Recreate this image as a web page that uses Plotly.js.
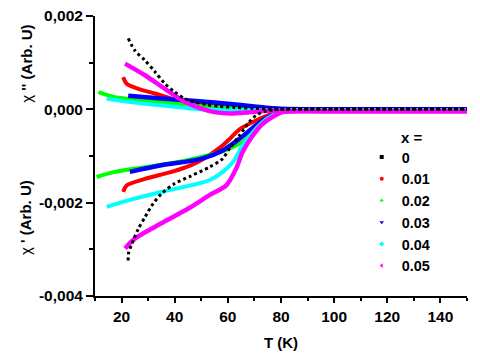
<!DOCTYPE html>
<html>
<head>
<meta charset="utf-8">
<script src="https://cdn.plot.ly/plotly-3.0.1.min.js"></script>
<style>
  html, body { margin: 0; padding: 0; background: #fff; }
  #chart { width: 480px; height: 357px; }
</style>
</head>
<body>
<div id="chart"></div>
<script>
// samples (x =) and their colours / symbols
var samples = ['0', '0.01', '0.02', '0.03', '0.04', '0.05'];
var colors = ['#000000', '#ff0000', '#00ff00', '#0000ff', '#00ffff', '#ff00ff'];
var symbols = ['square', 'circle', 'triangle-up', 'triangle-down', 'diamond', 'triangle-left'];

// chi'' branch (upper) and chi' branch (lower), T in K
var tUp0 = [22.5, 25, 28.8, 32.5, 36.3, 40, 43.8, 47.5, 52, 57, 63, 70, 80, 100, 150];
var cUp0 = [1.52e-3, 1.26e-3, 1.05e-3, 0.81e-3, 0.55e-3, 0.37e-3, 0.23e-3, 0.16e-3, 0.10e-3, 0.06e-3, 0.04e-3, 0.02e-3, 0, 0, 0];
var tDn0 = [22.5, 22.6, 24.4, 26.3, 28.8, 31.9, 35, 40, 46, 53, 58, 60.6, 64.4, 68.1, 70.6, 74, 80, 100, 150];
var cDn0 = [-3.24e-3, -3.09e-3, -2.81e-3, -2.56e-3, -2.31e-3, -2.02e-3, -1.81e-3, -1.59e-3, -1.43e-3, -1.24e-3, -1.06e-3, -0.84e-3, -0.56e-3, -0.27e-3, -0.13e-3, -0.04e-3, 0, 0, 0];

var tUp1 = [20.6, 21.9, 26.3, 32.5, 38.8, 43.8, 50, 58, 66, 75, 85, 100, 150];
var cUp1 = [0.69e-3, 0.55e-3, 0.44e-3, 0.34e-3, 0.23e-3, 0.16e-3, 0.09e-3, 0.05e-3, 0.02e-3, 0, 0, 0, 0];
var tDn1 = [20.6, 21.9, 28.8, 38.8, 46, 52, 57, 60.6, 64.4, 70.6, 75.6, 80, 85, 100, 150];
var cDn1 = [-1.77e-3, -1.63e-3, -1.49e-3, -1.34e-3, -1.2e-3, -1.02e-3, -0.82e-3, -0.64e-3, -0.43e-3, -0.24e-3, -0.12e-3, -0.04e-3, 0, 0, 0];

var tUp2 = [11.3, 17.5, 28.8, 41.3, 50, 60, 70, 80, 100, 150];
var cUp2 = [0.37e-3, 0.26e-3, 0.19e-3, 0.12e-3, 0.064e-3, 0.03e-3, 0.01e-3, 0, 0, 0];
var tDn2 = [10.6, 17.5, 28.8, 41.3, 51.5, 58, 60.6, 65.6, 70.6, 75.6, 80, 85, 100, 150];
var cDn2 = [-1.45e-3, -1.34e-3, -1.24e-3, -1.13e-3, -1.0e-3, -0.9e-3, -0.84e-3, -0.70e-3, -0.41e-3, -0.16e-3, -0.04e-3, 0, 0, 0];

var tUp3 = [22.5, 35, 48, 60, 70, 80, 100, 150];
var cUp3 = [0.29e-3, 0.23e-3, 0.18e-3, 0.12e-3, 0.06e-3, 0.01e-3, 0, 0];
var tDn3 = [23.1, 35, 50, 58.1, 64.4, 70.6, 75.6, 82, 100, 150];
var cDn3 = [-1.34e-3, -1.2e-3, -1.06e-3, -0.88e-3, -0.63e-3, -0.34e-3, -0.16e-3, -0.02e-3, 0, 0];

var tUp4 = [14.4, 22.5, 35, 50, 60, 75, 100, 150];
var cUp4 = [0.23e-3, 0.16e-3, 0.086e-3, 0, -0.02e-3, -0.02e-3, -0.02e-3, -0.02e-3];
var tDn4 = [14.4, 22.5, 35, 46, 53, 58.1, 61.9, 65.6, 69.4, 73.1, 76.9, 82, 100, 150];
var cDn4 = [-2.09e-3, -1.95e-3, -1.77e-3, -1.63e-3, -1.52e-3, -1.34e-3, -1.13e-3, -0.77e-3, -0.49e-3, -0.27e-3, -0.13e-3, -0.03e-3, -0.02e-3, -0.02e-3];

var tUp5 = [21.3, 28.8, 36.3, 43.8, 50, 55, 61, 67, 75, 85, 100, 150];
var cUp5 = [0.98e-3, 0.73e-3, 0.44e-3, 0.16e-3, 0.015e-3, -0.06e-3, -0.09e-3, -0.07e-3, -0.03e-3, -0.04e-3, -0.04e-3, -0.04e-3];
var tDn5 = [21.3, 25, 35, 45.3, 53.1, 59.4, 63.1, 65.6, 69.4, 73.1, 76.9, 80.6, 85, 100, 150];
var cDn5 = [-2.98e-3, -2.77e-3, -2.44e-3, -2.12e-3, -1.84e-3, -1.63e-3, -1.27e-3, -0.91e-3, -0.56e-3, -0.31e-3, -0.16e-3, -0.06e-3, -0.04e-3, -0.04e-3, -0.04e-3];

var xTicks = [20, 40, 60, 80, 100, 120, 140];
var yTicks = [-0.004, -0.002, 0, 0.002];
var yTickText = ['-0,004', '-0,002', '0,000', '0,002'];

var branches = [
  [tUp0, cUp0, tDn0, cDn0],
  [tUp1, cUp1, tDn1, cDn1],
  [tUp2, cUp2, tDn2, cDn2],
  [tUp3, cUp3, tDn3, cDn3],
  [tUp4, cUp4, tDn4, cDn4],
  [tUp5, cUp5, tDn5, cDn5]
];
var widths = [3, 4, 4, 4.5, 4, 4.5];

var data = [];
// draw 0.01..0.05 first, black dotted curve on top
var order = [1, 2, 3, 4, 5, 0];
order.forEach(function (i) {
  var b = branches[i];
  var line = { color: colors[i], width: widths[i], shape: 'spline', smoothing: 0.8 };
  if (i === 0) line.dash = 'dot';
  data.push({ x: b[0], y: b[1], type: 'scatter', mode: 'lines', line: line, showlegend: false, hoverinfo: 'skip' });
  data.push({ x: b[2], y: b[3], type: 'scatter', mode: 'lines', line: line, showlegend: false, hoverinfo: 'skip' });
});
// legend entries (marker only)
samples.forEach(function (s, i) {
  data.push({
    x: [null], y: [null], type: 'scatter', mode: 'markers', name: s,
    marker: { color: colors[i], symbol: symbols[i], size: 4 }
  });
});

var fontFam = 'Arial, Liberation Sans, sans-serif';
var tickFont = { family: fontFam, size: 15.5, color: '#000', weight: 'bold' };

var layout = {
  width: 480,
  height: 357,
  margin: { l: 95, r: 13, t: 16, b: 61 },
  paper_bgcolor: '#fff',
  plot_bgcolor: '#fff',
  showlegend: true,
  legend: {
    x: 0.717, y: 0.553, xanchor: 'left', yanchor: 'top',
    font: { family: fontFam, size: 14.4, color: '#000', weight: 'bold' },
    bgcolor: 'rgba(0,0,0,0)', itemwidth: 30, tracegroupgap: 0
  },
  xaxis: {
    range: [10, 150], tickvals: xTicks, ticks: 'outside', ticklen: 5, tickwidth: 2, tickcolor: '#000',
    minor: { dtick: 10, tick0: 0, ticks: 'outside', ticklen: 3, tickwidth: 2, tickcolor: '#000' },
    showline: true, linewidth: 2, linecolor: '#000', showgrid: false, zeroline: false,
    tickfont: tickFont,
    title: { text: 'T (K)', font: { family: fontFam, size: 15, color: '#000', weight: 'bold' }, standoff: 14 }
  },
  xaxis2: {
    range: [10, 150], overlaying: 'x', side: 'top', anchor: 'y', dtick: 10, tick0: 0,
    ticks: 'inside', ticklen: 5, tickwidth: 2, tickcolor: '#000', showticklabels: false,
    showline: true, linewidth: 2, linecolor: '#000', showgrid: false, zeroline: false
  },
  yaxis: {
    range: [-0.004, 0.002], tickvals: yTicks, ticktext: yTickText,
    ticks: 'outside', ticklen: 7, tickwidth: 2, tickcolor: '#000',
    minor: { dtick: 0.001, tick0: 0, ticks: 'outside', ticklen: 4, tickwidth: 2, tickcolor: '#000' },
    showline: true, linewidth: 2, linecolor: '#000', showgrid: false, zeroline: false,
    tickfont: tickFont
  },
  yaxis2: {
    range: [-0.004, 0.002], overlaying: 'y', side: 'right', anchor: 'x', dtick: 0.001, tick0: 0,
    ticks: 'inside', ticklen: 5, tickwidth: 2, tickcolor: '#000', showticklabels: false,
    showline: true, linewidth: 2, linecolor: '#000', showgrid: false, zeroline: false
  },
  annotations: [
    { text: 'x =', xref: 'paper', yref: 'paper', x: 0.818, y: 0.567, xanchor: 'left', yanchor: 'middle',
      showarrow: false, font: { family: fontFam, size: 15, color: '#000', weight: 'bold' } },
    { text: "\u03c7 <b>'' (Arb. U)</b>", xref: 'paper', yref: 'paper', x: -0.185, y: 0.83, textangle: -90,
      xanchor: 'center', yanchor: 'middle', showarrow: false,
      font: { family: fontFam, size: 15, color: '#000' } },
    { text: "\u03c7 <b>' (Arb. U)</b>", xref: 'paper', yref: 'paper', x: -0.185, y: 0.279, textangle: -90,
      xanchor: 'center', yanchor: 'middle', showarrow: false,
      font: { family: fontFam, size: 15, color: '#000' } }
  ]
};

Plotly.newPlot('chart', data, layout, { staticPlot: true });
</script>
</body>
</html>
